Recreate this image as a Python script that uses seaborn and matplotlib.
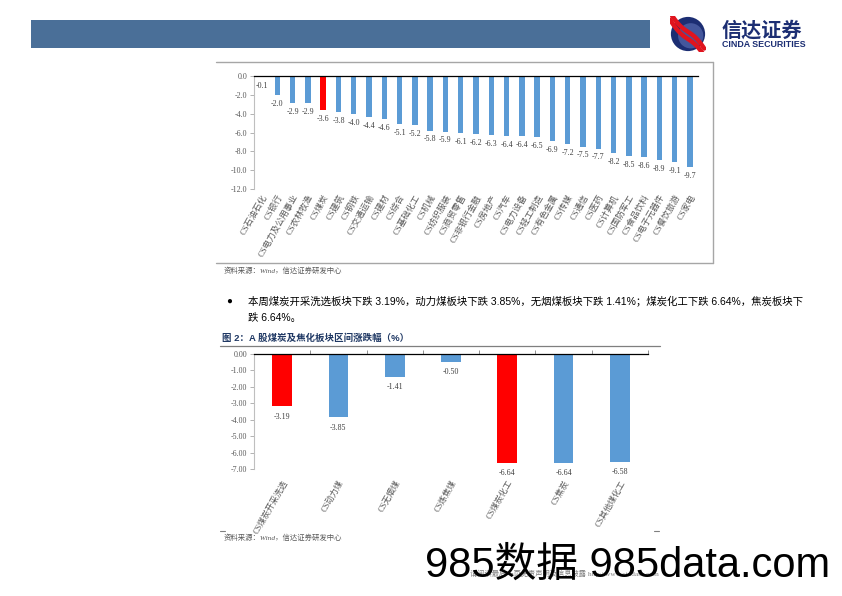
import matplotlib
matplotlib.use("Agg")
import matplotlib.pyplot as plt
from matplotlib import font_manager
import seaborn as sns
import pandas as pd
import numpy as np
from matplotlib.patches import Rectangle, Circle

# ---------------- data ----------------
top_categories = ["CS石油石化", "CS银行", "CS电力及公用事业", "CS农林牧渔", "CS煤炭", "CS建筑",
                  "CS钢铁", "CS交通运输", "CS建材", "CS综合", "CS基础化工", "CS机械",
                  "CS纺织服装", "CS商贸零售", "CS非银行金融", "CS房地产", "CS汽车", "CS电力设备",
                  "CS轻工制造", "CS有色金属", "CS传媒", "CS通信", "CS医药", "CS计算机",
                  "CS国防军工", "CS食品饮料", "CS电子元器件", "CS餐饮旅游", "CS家电"]
top_values = [-0.1, -2.0, -2.9, -2.9, -3.6, -3.8, -4.0, -4.4, -4.6, -5.1, -5.2, -5.8,
              -5.9, -6.1, -6.2, -6.3, -6.4, -6.4, -6.5, -6.9, -7.2, -7.5, -7.7, -8.2,
              -8.5, -8.6, -8.9, -9.1, -9.7]
top_highlight = ["CS煤炭"]
top_yticks = [0.0, -2.0, -4.0, -6.0, -8.0, -10.0, -12.0]

bot_categories = ["CS煤炭开采洗选", "CS动力煤", "CS无烟煤", "CS炼焦煤", "CS煤炭化工", "CS焦炭", "CS其他煤化工"]
bot_values = [-3.19, -3.85, -1.41, -0.50, -6.64, -6.64, -6.58]
bot_highlight = ["CS煤炭开采洗选", "CS煤炭化工"]
bot_yticks = [0.0, -1.0, -2.0, -3.0, -4.0, -5.0, -6.0, -7.0]

BLUE = "#5B9BD5"
RED = "#FF0000"
GRAY = "#595959"

W, H = 842, 596
sns.set_style("white")
plt.rcParams["font.family"] = ["Liberation Serif", "Noto Sans CJK SC", "DejaVu Sans"]
CJK = ["Liberation Serif", "Noto Sans CJK SC"]
SANS = ["Liberation Sans", "Noto Sans CJK SC"]
_names = {f.name for f in font_manager.fontManager.ttflist}
NARROW = (["Liberation Sans Narrow", "Noto Sans CJK SC"] if "Liberation Sans Narrow" in _names
          else SANS)
WM_SIZE = 35 if "Liberation Sans Narrow" in _names else 30

fig = plt.figure(figsize=(W / 100, H / 100), dpi=100)


def rect(x0, y0, x1, y1):
    return [x0 / W, 1 - y1 / H, (x1 - x0) / W, (y1 - y0) / H]


def fx(x):
    return x / W


def fy(y):
    return 1 - y / H


def hline(x0, x1, y, color="#A6A6A6", lw=1.0):
    fig.lines.append(plt.Line2D([fx(x0), fx(x1)], [fy(y), fy(y)], transform=fig.transFigure,
                                color=color, lw=lw))


# ---------------- header ----------------
fig.patches.append(Rectangle((fx(31), fy(48)), (650 - 31) / W, 28 / H,
                             transform=fig.transFigure, facecolor="#4A6F98", edgecolor="none"))
# logo
lax = fig.add_axes(rect(670, 16, 706, 52))
lax.set_xlim(-1, 1)
lax.set_ylim(-1, 1)
lax.axis("off")
lax.add_patch(Circle((0, 0), 0.95, facecolor="#1C2E73", edgecolor="none"))
lax.add_patch(Circle((0.15, -0.1), 0.7, facecolor="#6073B8", edgecolor="none", alpha=0.6))
for off in (-0.28, 0.12):
    xs = np.linspace(-1.0, 0.9, 30)
    lax.plot(xs, -1.1 * xs + off + 0.15 * np.sin(xs * 3), color="#E0141E", lw=3.2,
             solid_capstyle="round")
fig.text(fx(722), fy(31), "信达证券", fontsize=14.5, fontweight="bold", color="#1C2E73",
         family=SANS, va="center", ha="left")
fig.text(fx(722), fy(44.5), "CINDA SECURITIES", fontsize=6.4, fontweight="bold", color="#1C2E73",
         family=SANS, va="center", ha="left")

# ---------------- top chart frame ----------------
hline(216, 713, 62)
hline(216, 713, 263)
fig.lines.append(plt.Line2D([fx(713), fx(713)], [fy(62), fy(263)], transform=fig.transFigure,
                            color="#A6A6A6", lw=1.0))


def draw_bars(ax, cats, vals, highlight, yticks, fmt, rot_fs, val_fs, val_off, tick_fs,
              top_ticks, pad):
    df = pd.DataFrame({"cat": cats, "val": vals})
    pal = {c: (RED if c in highlight else BLUE) for c in cats}
    sns.barplot(data=df, x="cat", y="val", hue="cat", palette=pal, legend=False,
                width=0.35, ax=ax, saturation=1, edgecolor="none")
    ax.set_xlim(-0.5, len(cats) - 0.5)
    ax.set_ylim(min(yticks), 0)
    ax.set_yticks(yticks)
    ax.set_yticklabels([fmt.format(v) for v in yticks], fontsize=tick_fs, color=GRAY)
    ax.set_xlabel("")
    ax.set_ylabel("")
    ax.set_xticks(range(len(cats)))
    ax.set_xticklabels(cats, rotation=60, ha="right", va="top", rotation_mode="anchor",
                       fontsize=rot_fs, color=GRAY, family=CJK)
    ax.tick_params(axis="x", length=0, pad=pad)
    ax.tick_params(axis="y", length=3, width=0.6, color="#A6A6A6", pad=2, left=True)
    for s in ["right", "bottom"]:
        ax.spines[s].set_visible(False)
    ax.spines["left"].set_color("#BFBFBF")
    ax.spines["left"].set_linewidth(0.8)
    ax.spines["top"].set_color("black")
    ax.spines["top"].set_linewidth(0.9)
    if top_ticks:
        ax.set_xticks(np.arange(0.5, len(cats), 1.0), minor=True)
        ax.tick_params(axis="x", which="minor", top=True, bottom=False, direction="out",
                       length=3, width=0.6, color="#7F7F7F")
    for i, v in enumerate(vals):
        ax.annotate(fmt.format(v), (i, v), xytext=(0, -val_off), textcoords="offset points",
                    ha="center", va="top", fontsize=val_fs, color="#404040")
    ax.set_facecolor("none")


ax1 = fig.add_axes(rect(254.4, 76, 697.6, 189))
draw_bars(ax1, top_categories, top_values, top_highlight, top_yticks, "{:.1f}",
          6.2, 5.8, 3.5, 5.8, False, 3)

fig.text(fx(224), fy(270), "资料来源：Wind，信达证券研发中心", fontsize=5.3, color=GRAY,
         style="italic", family=CJK, va="center")

# ---------------- body text ----------------
fig.text(fx(226), fy(301), "●", fontsize=7, color="black", family=SANS, va="center")
fig.text(fx(248), fy(301),
         "本周煤炭开采洗选板块下跌 3.19%，动力煤板块下跌 3.85%，无烟煤板块下跌 1.41%；煤炭化工下跌 6.64%，焦炭板块下",
         fontsize=7.5, color="black", family=SANS, va="center")
fig.text(fx(248), fy(318), "跌 6.64%。", fontsize=7.5, color="black", family=SANS, va="center")
fig.text(fx(222), fy(338), "图 2：A 股煤炭及焦化板块区间涨跌幅（%）", fontsize=6.8, fontweight="bold",
         color="#1F3864", family=SANS, va="center")
hline(220, 660, 346, color="#7F7F7F", lw=0.9)

# ---------------- bottom chart ----------------
ax2 = fig.add_axes(rect(254, 354, 648, 469))
draw_bars(ax2, bot_categories, bot_values, bot_highlight, bot_yticks, "{:.2f}",
          6.0, 5.8, 4.5, 5.8, True, 7)

fig.text(fx(224), fy(537), "资料来源：Wind，信达证券研发中心", fontsize=5.3, color=GRAY,
         style="italic", family=CJK, va="center")
hline(220, 225, 531, color="#7F7F7F", lw=0.8)
hline(654, 659, 531, color="#7F7F7F", lw=0.8)

# ---------------- footer / watermark ----------------
fig.text(fx(470), fy(573), "请阅读最后一页免责声明及信息披露 http://www.cindasc.com", fontsize=5.2,
         color="#7F7F7F", family=CJK, va="center")
fig.text(fx(425), fy(566), "985数据 985data.com", fontsize=WM_SIZE, color="black", family=NARROW,
         va="center", ha="left")

fig.savefig("out.png", dpi=100)
